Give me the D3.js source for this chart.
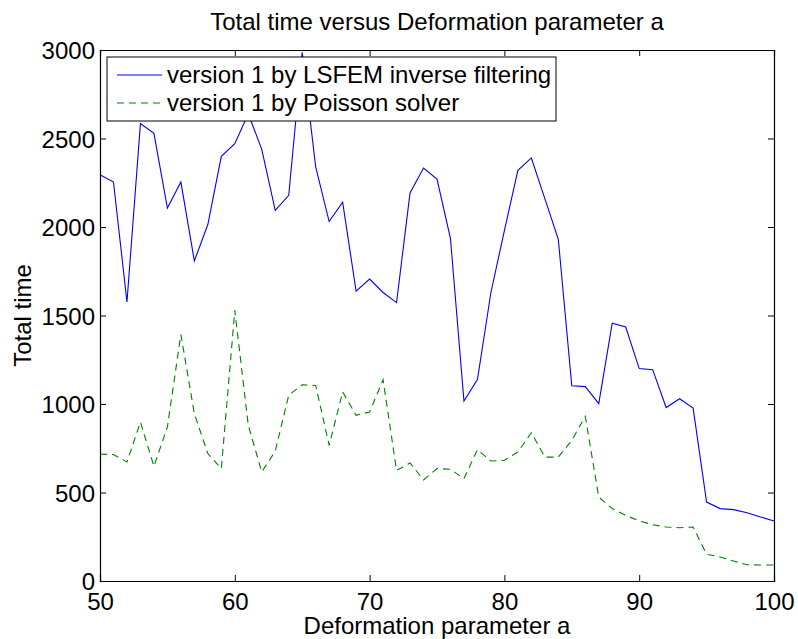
<!DOCTYPE html>
<html>
<head>
<meta charset="utf-8">
<script src="https://cdn.jsdelivr.net/npm/d3@7"></script>
<style>
  html, body { margin: 0; padding: 0; background: #fff; }
  svg { display: block; }
  text { font-family: "Liberation Sans", Arial, Helvetica, sans-serif; fill: #000; }
</style>
</head>
<body>
<svg id="chart" width="798" height="639"></svg>
<script>
const aValues = d3.range(50, 101, 1);
const lsfemTimes = [2295, 2254, 1576, 2584, 2529, 2107, 2254, 1808, 2014, 2399,
  2471, 2640, 2439, 2094, 2179, 2987, 2340, 2031, 2140, 1637,
  1706, 1630, 1573, 2192, 2333, 2271, 1934, 1017, 1138, 1630,
  1980, 2320, 2390, 2160, 1930, 1103, 1098, 1002, 1457, 1435,
  1200, 1194, 980, 1030, 977, 446, 409, 403, 386, 362, 339];
const poissonTimes = [716, 715, 672, 898, 648, 870, 1393, 945, 720, 635,
  1529, 880, 616, 734, 1050, 1109, 1105, 766, 1068, 936,
  955, 1137, 625, 667, 571, 635, 631, 578, 742, 678,
  682, 729, 838, 700, 700, 795, 930, 474, 409, 371,
  339, 318, 305, 301, 305, 151, 136, 113, 92, 90, 90];
const xTicks = [50, 60, 70, 80, 90, 100];
const yTicks = [0, 500, 1000, 1500, 2000, 2500, 3000];
const seriesNames = ["version 1 by LSFEM inverse filtering", "version 1 by Poisson solver"];
const titleText = "Total time versus Deformation parameter a";
const xLabelText = "Deformation parameter a";
const yLabelText = "Total time";

const svg = d3.select("#chart");
const L = 100, R = 774, T = 50, B = 581;
const x = d3.scaleLinear().domain([50, 100]).range([L, R]);
const y = d3.scaleLinear().domain([0, 3000]).range([B, T]);
const tickLen = 6;
const FS = "24px";

// lines
const line = d3.line().x((d, i) => x(aValues[i])).y(d => y(d));
svg.append("path").datum(poissonTimes)
  .attr("d", line).attr("fill", "none")
  .attr("stroke", "#008000").attr("stroke-width", 1.1)
  .attr("stroke-dasharray", "7,5");
svg.append("path").datum(lsfemTimes)
  .attr("d", line).attr("fill", "none")
  .attr("stroke", "#0000ff").attr("stroke-width", 1.1);

// axes (matlab box style, inward ticks)
const axB = svg.append("g").attr("transform", `translate(0,${B})`)
  .call(d3.axisBottom(x).tickValues(xTicks).tickSize(-tickLen).tickPadding(12).tickFormat(d3.format("d")));
const axT = svg.append("g").attr("transform", `translate(0,${T})`)
  .call(d3.axisTop(x).tickValues(xTicks).tickSize(-tickLen).tickFormat(""));
const axL = svg.append("g").attr("transform", `translate(${L},0)`)
  .call(d3.axisLeft(y).tickValues(yTicks).tickSize(-tickLen).tickPadding(5).tickFormat(d3.format("d")));
const axR = svg.append("g").attr("transform", `translate(${R},0)`)
  .call(d3.axisRight(y).tickValues(yTicks).tickSize(-tickLen).tickFormat(""));
[axB, axT, axL, axR].forEach(g => {
  g.select(".domain").attr("stroke", "#000").attr("stroke-width", 1.2);
  g.selectAll(".tick line").attr("stroke", "#000").attr("stroke-width", 1);
  g.selectAll("text").style("font-size", FS).attr("fill", "#000")
    .style("font-family", '"Liberation Sans", Arial, sans-serif');
});
axB.selectAll(".tick text").attr("dy", "0.71em");
axL.selectAll(".tick text").attr("dy", "0.36em");

// title and labels
svg.append("text").attr("x", (L + R) / 2).attr("y", 30)
  .attr("text-anchor", "middle").style("font-size", FS).text(titleText);
svg.append("text").attr("x", (L + R) / 2).attr("y", 634)
  .attr("text-anchor", "middle").style("font-size", FS).text(xLabelText);
svg.append("text").attr("transform", `translate(31,${(T + B) / 2}) rotate(-90)`)
  .attr("text-anchor", "middle").style("font-size", FS).text(yLabelText);

// legend
const lg = svg.append("g");
lg.append("rect").attr("x", 107).attr("y", 57).attr("width", 449).attr("height", 64)
  .attr("fill", "#fff").attr("stroke", "#000").attr("stroke-width", 1);
const legendRows = [
  { name: seriesNames[0], color: "#0000ff", dash: null, yy: 75 },
  { name: seriesNames[1], color: "#008000", dash: "7,5", yy: 103 }
];
legendRows.forEach(r => {
  lg.append("line").attr("x1", 117).attr("x2", 162).attr("y1", r.yy).attr("y2", r.yy)
    .attr("stroke", r.color).attr("stroke-width", 1.1)
    .attr("stroke-dasharray", r.dash);
  lg.append("text").attr("x", 167).attr("y", r.yy).attr("dy", "0.35em")
    .style("font-size", FS).text(r.name);
});
</script>
</body>
</html>
